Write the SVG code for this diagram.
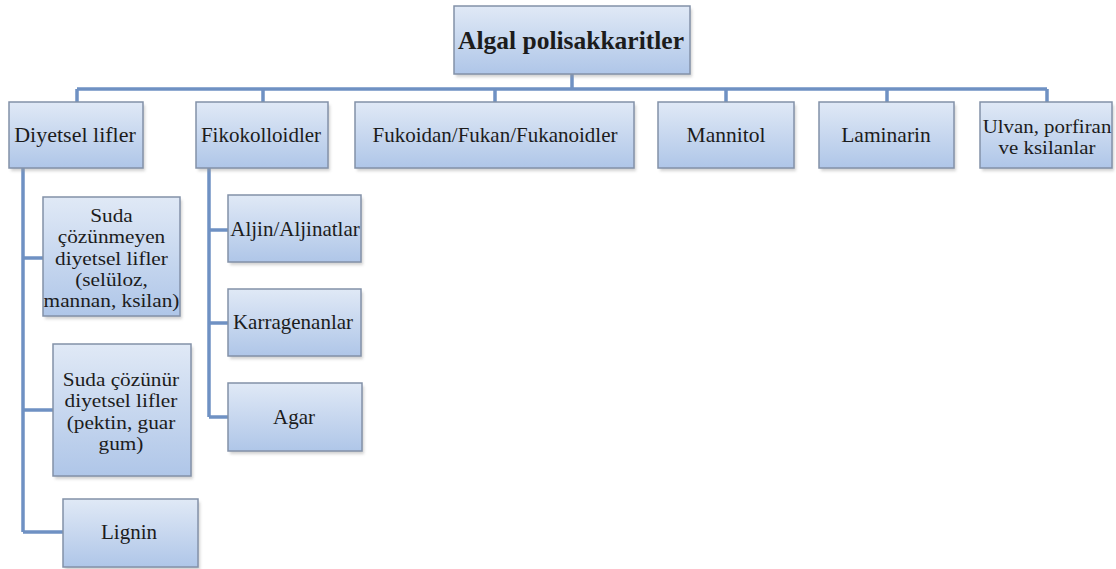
<svg xmlns="http://www.w3.org/2000/svg" width="1116" height="569" viewBox="0 0 1116 569">
<style>
.box{fill:url(#g);stroke:#8391a8;stroke-width:1.5}
.sh{fill:#9a9a9a;opacity:0.45;filter:url(#blur)}
.c{fill:none;stroke:#6f91c3;stroke-width:3.5}
</style>
<defs>
<linearGradient id="g" x1="0" y1="0" x2="0" y2="1">
<stop offset="0" stop-color="#e0e9f6"/>
<stop offset="1" stop-color="#afc6e8"/>
</linearGradient>
<filter id="blur" x="-10%" y="-10%" width="120%" height="130%"><feGaussianBlur stdDeviation="1.5"/></filter>
</defs>
<rect width="1116" height="569" fill="#ffffff"/>
<g id="connectors">
<path class="c" d="M572 74V89M77 89H1047M77 89V102M263 89V102M495 89V102M726 89V102M887 89V102M1047 89V102"/>
<path class="c" d="M23 168V532M23 258H43M23 410H53M23 532H63"/>
<path class="c" d="M209 168V417M209 230H228M209 323H228M209 417H228"/>
</g>
<g font-family="Liberation Serif, DejaVu Serif, serif" fill="#1c1c1c" text-anchor="middle">
<g id="root">
<rect class="sh" x="456" y="9" width="236" height="68"/>
<rect class="box" x="454" y="6" width="236" height="68"/>
<text x="571" y="49" font-size="25.5" font-weight="bold">Algal polisakkaritler</text>
</g>
<g id="diyetsel">
<rect class="sh" x="11" y="105" width="134" height="66"/>
<rect class="box" x="9" y="102" width="134" height="66"/>
<text x="75" y="142" font-size="22">Diyetsel lifler</text>
</g>
<g id="fiko">
<rect class="sh" x="198" y="105" width="132" height="66"/>
<rect class="box" x="196" y="102" width="132" height="66"/>
<text x="261" y="142" font-size="21">Fikokolloidler</text>
</g>
<g id="fukoidan">
<rect class="sh" x="357" y="105" width="279" height="66"/>
<rect class="box" x="355" y="102" width="279" height="66"/>
<text x="495" y="142" font-size="21">Fukoidan/Fukan/Fukanoidler</text>
</g>
<g id="mannitol">
<rect class="sh" x="660" y="105" width="136" height="66"/>
<rect class="box" x="658" y="102" width="136" height="66"/>
<text x="726" y="142" font-size="21.5">Mannitol</text>
</g>
<g id="laminarin">
<rect class="sh" x="821" y="105" width="135" height="66"/>
<rect class="box" x="819" y="102" width="135" height="66"/>
<text x="886" y="142" font-size="21.5">Laminarin</text>
</g>
<g id="ulvan">
<rect class="sh" x="982" y="105" width="132" height="66"/>
<rect class="box" x="980" y="102" width="132" height="66"/>
<g transform="translate(1047,0) scale(1.16,1)" font-size="18">
<text x="0" y="133.5">Ulvan, porfiran</text>
<text x="0" y="154.5">ve ksilanlar</text>
</g>
</g>
<g id="suda-cozunmeyen">
<rect class="sh" x="45" y="200" width="137" height="119"/>
<rect class="box" x="43" y="197" width="137" height="119"/>
<g transform="translate(111.5,0) scale(1.15,1)" font-size="18.5">
<text x="0" y="222">Suda</text>
<text x="0" y="243.3">çözünmeyen</text>
<text x="0" y="264.6">diyetsel lifler</text>
<text x="0" y="285.9">(selüloz,</text>
<text x="0" y="307.2">mannan, ksilan)</text>
</g>
</g>
<g id="suda-cozunur">
<rect class="sh" x="55" y="347" width="138" height="132"/>
<rect class="box" x="53" y="344" width="138" height="132"/>
<g transform="translate(121,0) scale(1.15,1)" font-size="18.5">
<text x="0" y="386">Suda  çözünür</text>
<text x="0" y="407.5">diyetsel lifler</text>
<text x="0" y="429">(pektin, guar</text>
<text x="0" y="450.5">gum)</text>
</g>
</g>
<g id="lignin">
<rect class="sh" x="65" y="502" width="135" height="68"/>
<rect class="box" x="63" y="499" width="135" height="68"/>
<text x="129" y="539" font-size="21">Lignin</text>
</g>
<g id="aljin">
<rect class="sh" x="230" y="198" width="133" height="67"/>
<rect class="box" x="228" y="195" width="133" height="67"/>
<text x="295" y="236" font-size="21">Aljin/Aljinatlar</text>
</g>
<g id="karragenanlar">
<rect class="sh" x="230" y="292" width="133" height="67"/>
<rect class="box" x="228" y="289" width="133" height="67"/>
<text x="293" y="329" font-size="21">Karragenanlar</text>
</g>
<g id="agar">
<rect class="sh" x="230" y="386" width="134" height="68"/>
<rect class="box" x="228" y="383" width="134" height="68"/>
<text x="294" y="424" font-size="21">Agar</text>
</g>
</g>
</svg>
